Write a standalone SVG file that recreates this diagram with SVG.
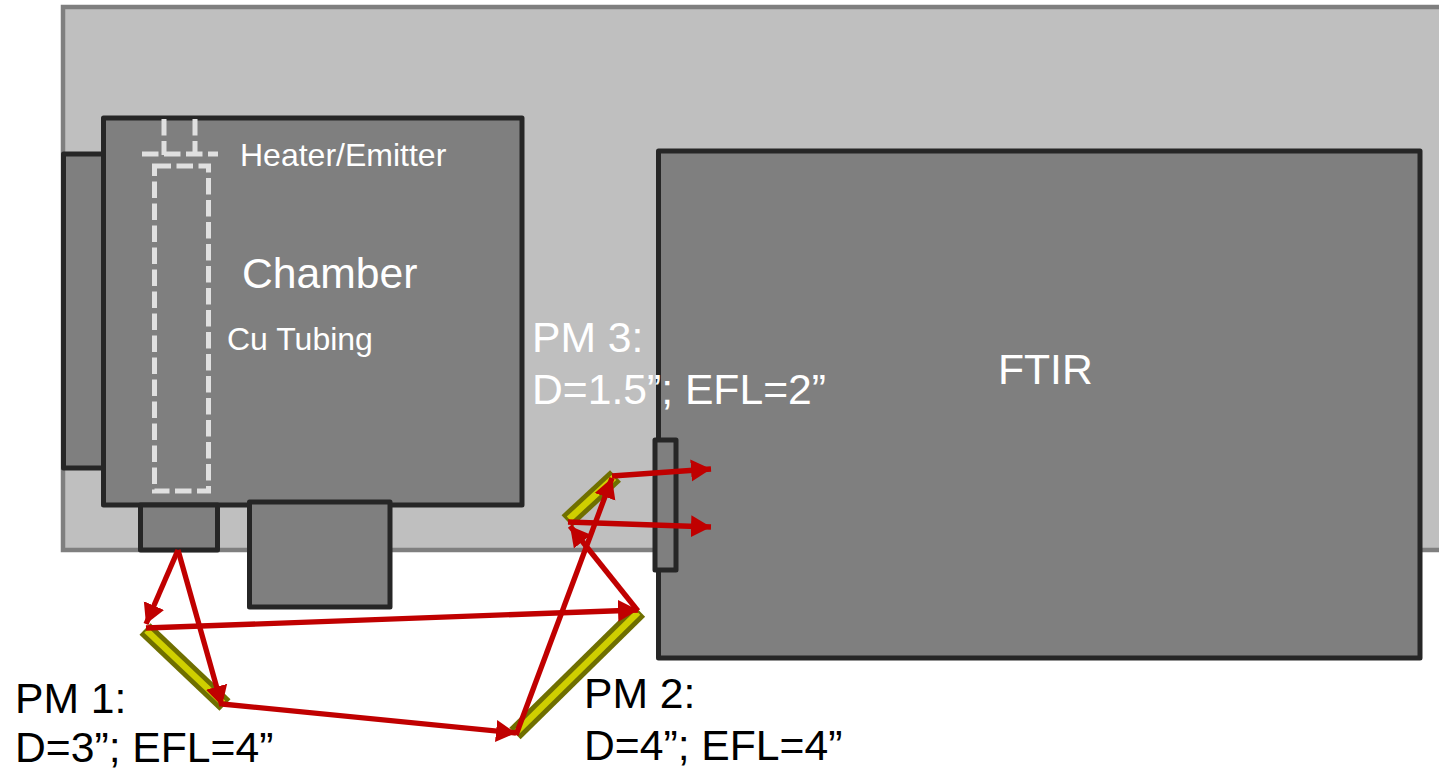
<svg xmlns="http://www.w3.org/2000/svg" width="1439" height="769" viewBox="0 0 1439 769">
<style>
.box{fill:#7f7f7f;stroke:#262626;stroke-width:5;stroke-linejoin:round}
.dash{fill:none;stroke:#e0e0e0;stroke-width:5;stroke-dasharray:16.5 5.5}
.m1{fill:none;stroke:#6f6f00;stroke-width:16}
.m2{fill:none;stroke:#cfcf00;stroke-width:6.5}
.ray{fill:none;stroke:#c00000;stroke-width:5.3;marker-end:url(#a)}
text{font-family:"Liberation Sans",Arial,sans-serif}
.w{fill:#fff}
.k{fill:#000}
.l{font-size:42.67px}
.s{font-size:32px}
</style>
<defs>
<marker id="a" markerUnits="userSpaceOnUse" markerWidth="24" markerHeight="24" refX="20" refY="12" orient="auto"><path d="M0 1L20 12L0 23z" fill="#c00000"/></marker>
</defs>
<g id="table"><rect x="63" y="7" width="1390" height="543" fill="#bfbfbf" stroke="#7f7f7f" stroke-width="4.5"/></g>
<g id="left-port"><rect class="box" x="63.500" y="154" width="40" height="314"/></g>
<g id="chamber"><rect class="box" x="103.500" y="118" width="418.500" height="387"/>
<text class="w l" x="242" y="288">Chamber</text></g>
<g id="heater"><path class="dash" d="M164 119V155"/><path class="dash" d="M195 119V155"/><path class="dash" d="M142 154H218"/>
<text class="w s" x="240" y="166">Heater/Emitter</text></g>
<g id="tubing"><rect class="dash" x="154.500" y="166" width="54" height="325"/>
<text class="w s" x="227" y="350">Cu Tubing</text></g>
<g id="port-bottom"><rect class="box" x="140.500" y="505" width="77" height="45"/></g>
<g id="block"><rect class="box" x="249.500" y="502" width="140.500" height="105"/></g>
<g id="ftir"><rect class="box" x="658.500" y="151" width="761.500" height="507"/>
<text class="w l" x="998" y="384">FTIR</text></g>
<g id="window"><rect class="box" x="655" y="440" width="21" height="130"/></g>
<g id="pm1"><path class="m1" d="M145 629L225 705"/><path class="m2" d="M146.500 630.500L223 703"/>
<text class="k l" x="15" y="713">PM 1:</text><text class="k l" x="15" y="762">D=3”; EFL=4”</text></g>
<g id="pm2"><path class="m1" d="M515 733.500L639.500 611"/><path class="m2" d="M517 731.500L638 612.500"/>
<text class="k l" x="584" y="708">PM 2:</text><text class="k l" x="584" y="760">D=4”; EFL=4”</text></g>
<g id="pm3"><path class="m1" d="M567 521L615.500 476"/><path class="m2" d="M569 519L614 477.500"/>
<text class="w l" x="532" y="352">PM 3:</text><text class="w l" x="532" y="404">D=1.5”; EFL=2”</text></g>
<g id="connectors">
<path class="ray" d="M178 550L146 624"/>
<path class="ray" d="M178 550L222 706"/>
<path class="ray" d="M146 628L638 610"/>
<path class="ray" d="M222 704L516 733"/>
<path class="ray" d="M516 735L612 478"/>
<path class="ray" d="M638 611L570 526"/>
<path class="ray" d="M612 476L711 469"/>
<path class="ray" d="M568 522L711 527"/>
</g>
</svg>
